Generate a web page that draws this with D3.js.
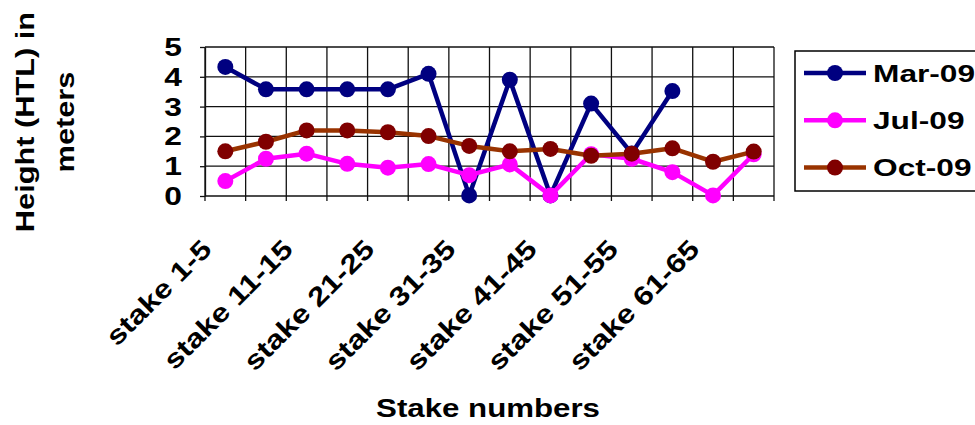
<!DOCTYPE html>
<html><head><meta charset="utf-8">
<script src="https://cdn.jsdelivr.net/npm/d3@7"></script>
<style>body{margin:0;background:#fff}svg{display:block}text{font-family:"Liberation Sans",Arial,sans-serif;font-weight:bold;fill:#000}</style>
</head><body><svg id="c" width="975" height="425"></svg>
<script>
const categories = ["stake 1-5","stake 6-10","stake 11-15","stake 16-20","stake 21-25","stake 26-30","stake 31-35","stake 36-40","stake 41-45","stake 46-50","stake 51-55","stake 56-60","stake 61-65","stake 66-70"];
const xTickLabels = ["stake 1-5","stake 11-15","stake 21-25","stake 31-35","stake 41-45","stake 51-55","stake 61-65"];
const yTicks = [0,1,2,3,4,5];
const seriesNames = ["Mar-09","Jul-09","Oct-09"];
const mar09 = [4.33,3.58,3.58,3.58,3.58,4.1,0.02,3.9,0.02,3.1,1.43,3.52,null,null];
const jul09 = [0.5,1.25,1.42,1.08,0.95,1.07,0.7,1.06,0.02,1.4,1.25,0.8,0.02,1.4];
const oct09 = [1.5,1.82,2.2,2.2,2.14,2.01,1.68,1.5,1.58,1.35,1.42,1.6,1.15,1.49];
const lineColors = ["#000080","#FF00FF","#993300"];
const markerColors = ["#000080","#FF00FF","#800000"];

const svg = d3.select("#c");
const L = 205, R = 774, T = 47, B = 196;
const SX = 1.27; // horizontal widening of the chart's bold font
const x = d3.scaleBand().domain(categories).range([L, R]).padding(0);
const y = d3.scaleLinear().domain([0,5]).range([B, T]);
const cx = c => x(c) + x.bandwidth()/2;

// grid
const g = svg.append("g");
g.selectAll(".hg").data(yTicks).join("line")
  .attr("x1", L).attr("x2", R).attr("y1", d => y(d)).attr("y2", d => y(d))
  .attr("stroke", "#111").attr("stroke-width", 1.3);
const bounds = categories.map(c => x(c)).concat([R]);
g.selectAll(".vg").data(bounds).join("line")
  .attr("x1", d => d).attr("x2", d => d).attr("y1", T).attr("y2", B + 5)
  .attr("stroke", "#111").attr("stroke-width", 1.3);

// y axis
const ya = svg.append("g").attr("transform", `translate(${L},0)`)
  .call(d3.axisLeft(y).tickValues(yTicks).tickSize(5).tickSizeOuter(0).tickFormat(d3.format("d")));
ya.select(".domain").attr("stroke", "#111").attr("stroke-width", 1.3);
ya.selectAll(".tick line").attr("stroke", "#111").attr("stroke-width", 1.3);
ya.selectAll(".tick text").remove();
svg.append("g").selectAll("text").data(yTicks).join("text")
  .attr("transform", d => `translate(182,${y(d)}) scale(${SX},1)`)
  .attr("dy", "0.36em").attr("text-anchor", "end").attr("font-size", 25)
  .text(d3.format("d"));

// x tick labels
svg.append("g").selectAll("text").data(xTickLabels).join("text")
  .attr("transform", d => `translate(${cx(d) - 12},${251}) rotate(-45) scale(1.2,1)`)
  .attr("text-anchor", "end").attr("font-size", 26.5)
  .text(d => d);

// series
const data = [mar09, jul09, oct09];
const line = d3.line().defined(d => d.v !== null).x(d => cx(d.c)).y(d => y(d.v));
data.forEach((arr, i) => {
  const pts = arr.map((v, j) => ({c: categories[j], v}));
  svg.append("path").datum(pts).attr("d", line)
    .attr("fill", "none").attr("stroke", lineColors[i]).attr("stroke-width", 4.5).attr("stroke-linejoin", "round");
  svg.append("g").selectAll("circle").data(pts.filter(p => p.v !== null)).join("circle")
    .attr("cx", p => cx(p.c)).attr("cy", p => y(p.v)).attr("r", 8).attr("fill", markerColors[i]);
});

// legend
const lg = svg.append("g");
lg.append("rect").attr("x", 795).attr("y", 51).attr("width", 200).attr("height", 140)
  .attr("fill", "#fff").attr("stroke", "#000").attr("stroke-width", 1.5);
seriesNames.forEach((n, i) => {
  const yy = 73 + i * 47.3;
  lg.append("line").attr("x1", 804).attr("x2", 866).attr("y1", yy).attr("y2", yy)
    .attr("stroke", lineColors[i]).attr("stroke-width", 4.5);
  lg.append("circle").attr("cx", 835).attr("cy", yy).attr("r", 8).attr("fill", markerColors[i]);
  lg.append("text").attr("transform", `translate(873,${yy}) scale(1.32,1)`).attr("dy", "0.36em")
    .attr("font-size", 24).text(n);
});

// axis titles
svg.append("text").attr("transform", `translate(488,417) scale(1.25,1)`).attr("text-anchor", "middle")
  .attr("font-size", 25).text("Stake numbers");
const yt = svg.append("g").attr("transform", "translate(0,122) rotate(-90)");
yt.append("text").attr("transform", `translate(0,25) scale(1.23,1)`).attr("dy", "0.36em").attr("text-anchor", "middle")
  .attr("font-size", 25).text("Height (HTL) in");
yt.append("text").attr("transform", `translate(0,65) scale(1.23,1)`).attr("dy", "0.36em").attr("text-anchor", "middle")
  .attr("font-size", 25).text("meters");
</script></body></html>
